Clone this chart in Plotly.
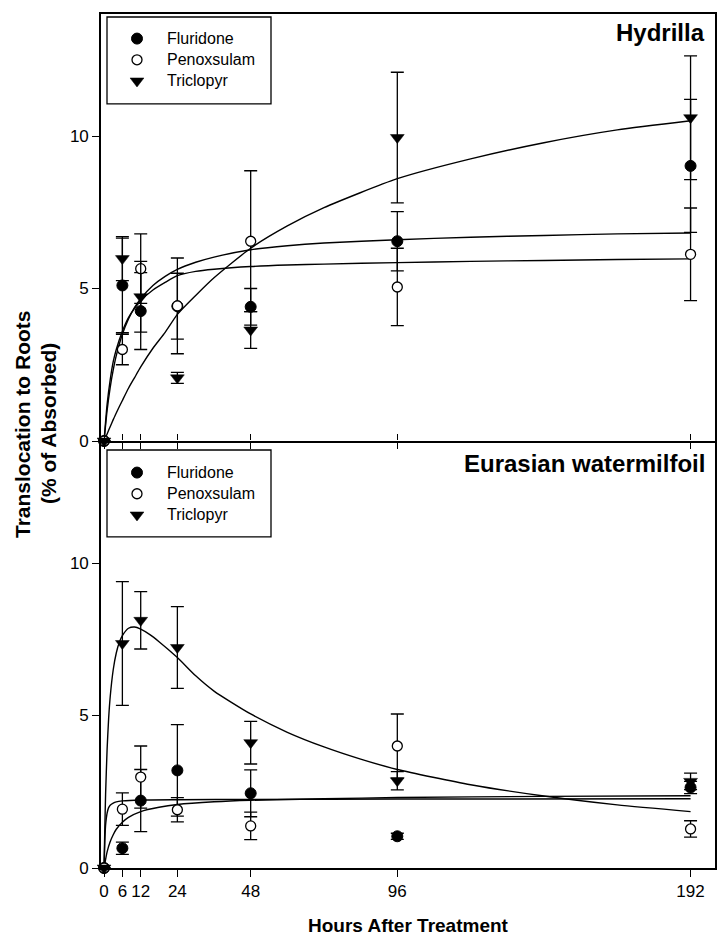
import plotly.graph_objects as go

# ---------------- data ----------------
hours = [0, 6, 12, 24, 48, 96, 192]
x_ticks = [0, 6, 12, 24, 48, 96, 192]
y_ticks = [0, 5, 10]
series_names = ["Fluridone", "Penoxsulam", "Triclopyr"]

# Hydrilla (top panel)
hyd_fluridone = [0, 5.10, 4.26, 4.42, 4.40, 6.55, 9.02]
hyd_fluridone_err = [0, 1.55, 1.26, 1.08, 0.60, 0.97, 2.18]
hyd_penoxsulam = [0, 3.00, 5.65, 4.43, 6.55, 5.05, 6.12]
hyd_penoxsulam_err = [0, 0.50, 1.14, 1.57, 2.31, 1.27, 1.52]
hyd_triclopyr = [0, 5.98, 4.73, 2.07, 3.64, 9.95, 10.60]
hyd_triclopyr_err = [0, 0.72, 1.16, 0.18, 0.60, 2.14, 2.03]

# Hydrilla fitted curves
hyd_fit_x = [0, 1, 2, 3, 4, 6, 8, 10, 12, 16, 20, 24, 30, 36, 48, 60, 72, 96, 120, 144, 168, 192]
hyd_fit_fluridone = [0, 1.0, 1.75, 2.33, 2.8, 3.5, 4.0, 4.38, 4.67, 5.1, 5.4, 5.63, 5.86, 6.03, 6.27, 6.4, 6.49, 6.6, 6.68, 6.74, 6.79, 6.82]
hyd_fit_penoxsulam = [0, 1.2, 2.0, 2.6, 3.0, 3.6, 4.05, 4.35, 4.6, 4.95, 5.2, 5.42, 5.56, 5.63, 5.72, 5.77, 5.8, 5.85, 5.89, 5.92, 5.95, 5.97]
hyd_fit_triclopyr = [0, 0.23, 0.47, 0.7, 0.92, 1.33, 1.73, 2.08, 2.43, 3.04, 3.56, 4.15, 4.77, 5.35, 6.32, 7.05, 7.65, 8.6, 9.25, 9.78, 10.2, 10.5]

# Eurasian watermilfoil (bottom panel)
ewm_fluridone = [0, 0.65, 2.21, 3.20, 2.45, 1.04, 2.64]
ewm_fluridone_err = [0, 0.20, 1.02, 1.50, 0.77, 0.10, 0.20]
ewm_penoxsulam = [0, 1.93, 2.98, 1.91, 1.38, 4.00, 1.28]
ewm_penoxsulam_err = [0, 0.53, 1.02, 0.40, 0.45, 1.05, 0.27]
ewm_triclopyr = [0, 7.36, 8.12, 7.23, 4.11, 2.86, 2.84]
ewm_triclopyr_err = [0, 2.03, 0.94, 1.34, 0.70, 0.30, 0.27]

ewm_fit_tri_x = [0, 0.25, 0.5, 1, 1.5, 2, 3, 4, 5, 6, 8, 10, 12, 15, 18, 24, 30, 36, 48, 60, 72, 84, 96, 120, 144, 168, 192]
ewm_fit_triclopyr = [0, 1.3, 2.4, 3.9, 4.9, 5.6, 6.5, 7.05, 7.4, 7.62, 7.86, 7.9, 7.83, 7.65, 7.42, 6.9, 6.3, 5.8, 5.05, 4.45, 3.97, 3.57, 3.23, 2.73, 2.36, 2.07, 1.85]
ewm_fit_flu_x = [0, 0.25, 0.5, 1, 1.5, 2, 3, 4, 6, 12, 24, 48, 96, 192]
ewm_fit_fluridone = [0, 0.9, 1.4, 1.8, 1.98, 2.06, 2.13, 2.17, 2.2, 2.23, 2.24, 2.25, 2.26, 2.27]
ewm_fit_pen_x = [0, 1, 2, 3, 4, 6, 8, 12, 18, 24, 36, 48, 72, 96, 144, 192]
ewm_fit_penoxsulam = [0, 0.53, 0.86, 1.09, 1.27, 1.5, 1.66, 1.85, 1.99, 2.08, 2.17, 2.22, 2.27, 2.31, 2.35, 2.37]

panel_labels = ["Hydrilla", "Eurasian watermilfoil"]
x_title = "Hours After Treatment"
y_title_lines = ["Translocation to Roots", "(% of Absorbed)"]

# ---------------- figure ----------------
# The page body has an 8px default margin, so the figure is drawn 8px smaller
# and all window-pixel positions below are shifted by OFF.
FONT = "Liberation Sans, Arial, sans-serif"
OFF = 8
W, H = 725 - OFF, 939 - OFF
ML, MR, MT, MB = 101 - OFF, 10, 12 - OFF, 71
PW, PH = W - ML - MR, H - MT - MB

def px_x(p):
    return (p - OFF - ML) / PW

def px_y(p):
    return (H - MB - (p - OFF)) / PH

fig = go.Figure()

def add_curve(x, y, xa, ya):
    fig.add_trace(go.Scatter(x=x, y=y, mode="lines",
                             line=dict(color="black", width=1.4, shape="spline", smoothing=0.6),
                             xaxis=xa, yaxis=ya, showlegend=False, hoverinfo="skip"))

add_curve(hyd_fit_x, hyd_fit_fluridone, "x", "y")
add_curve(hyd_fit_x, hyd_fit_penoxsulam, "x", "y")
add_curve(hyd_fit_x, hyd_fit_triclopyr, "x", "y")
add_curve(ewm_fit_tri_x, ewm_fit_triclopyr, "x2", "y2")
add_curve(ewm_fit_flu_x, ewm_fit_fluridone, "x2", "y2")
add_curve(ewm_fit_pen_x, ewm_fit_penoxsulam, "x2", "y2")

markers = [
    dict(symbol="circle", size=11, color="black", line=dict(color="black", width=1)),
    dict(symbol="circle", size=10, color="white", line=dict(color="black", width=1.3)),
    dict(symbol="triangle-down", size=12, color="black", line=dict(color="black", width=0.5)),
]

def add_points(ys, errs, idx, xa, ya, legend):
    fig.add_trace(go.Scatter(
        x=hours, y=ys, mode="markers",
        name='<span style="font-size:16px">%s</span>' % series_names[idx],
        marker=markers[idx],
        error_y=dict(type="data", array=errs, visible=True, color="black", thickness=1.3, width=6.5),
        xaxis=xa, yaxis=ya, legend=legend, cliponaxis=False,
    ))

add_points(hyd_fluridone, hyd_fluridone_err, 0, "x", "y", "legend")
add_points(hyd_penoxsulam, hyd_penoxsulam_err, 1, "x", "y", "legend")
add_points(hyd_triclopyr, hyd_triclopyr_err, 2, "x", "y", "legend")
add_points(ewm_fluridone, ewm_fluridone_err, 0, "x2", "y2", "legend2")
add_points(ewm_penoxsulam, ewm_penoxsulam_err, 1, "x2", "y2", "legend2")
add_points(ewm_triclopyr, ewm_triclopyr_err, 2, "x2", "y2", "legend2")

tickfont = dict(family=FONT, size=17, color="black")
common_x = dict(range=[-1, 200], tickvals=x_ticks, showgrid=False, zeroline=False,
                linecolor="black", linewidth=1.6, ticks="outside",
                ticklen=6, tickwidth=1.3, tickcolor="black", tickfont=tickfont)
common_y = dict(range=[0, 14], tickvals=y_ticks, showgrid=False, zeroline=False,
                showline=True, linecolor="black", linewidth=1.6, ticks="outside", mirror=True,
                ticklen=7, tickwidth=1.3, tickcolor="black", tickfont=tickfont)

legend_common = dict(xanchor="left", yanchor="top", bgcolor="rgba(0,0,0,0)", borderwidth=0,
                     font=dict(family=FONT, size=14, color="black"), itemwidth=50,
                     tracegroupgap=0, itemclick=False, itemdoubleclick=False)

xaxis_top = {**common_x, "domain": [0, 1], "anchor": "y", "showline": True, "mirror": True,
             "showticklabels": False}
xaxis_bottom = {**common_x, "domain": [0, 1], "anchor": "y2", "showline": True, "mirror": False,
                "showticklabels": True, "ticklen": 7}
xaxis_divider = {**common_x, "overlaying": "x2", "anchor": "y2", "side": "top", "showline": False,
                 "showticklabels": False}

fig.update_layout(
    width=W, height=H,
    margin=dict(l=ML, r=MR, t=MT, b=MB, pad=0),
    paper_bgcolor="white", plot_bgcolor="white",
    xaxis=xaxis_top,
    yaxis={**common_y, "domain": [0.5, 1], "anchor": "x"},
    xaxis2=xaxis_bottom,
    yaxis2={**common_y, "domain": [0, 0.5], "anchor": "x2"},
    xaxis3=xaxis_divider,
    legend=dict(**legend_common, x=px_x(107), y=px_y(21)),
    legend2=dict(**legend_common, x=px_x(107), y=px_y(456)),
    showlegend=True,
)

# empty trace so the overlay axis (upward ticks at the divider) is drawn
fig.add_trace(go.Scatter(x=[None], y=[None], xaxis="x3", yaxis="y2", showlegend=False,
                         hoverinfo="skip", mode="markers"))

# legend boxes
for (x0, y0, x1, y1) in [(107, 15, 271, 102), (107, 449, 271, 536)]:
    fig.add_shape(type="rect", xref="paper", yref="paper",
                  x0=px_x(x0), x1=px_x(x1), y0=px_y(y1), y1=px_y(y0),
                  line=dict(color="black", width=1.3), fillcolor="rgba(0,0,0,0)", layer="above")

# panel labels
fig.add_annotation(text="<b>%s</b>" % panel_labels[0], xref="paper", yref="paper",
                   x=px_x(707), y=px_y(31), xanchor="right", yanchor="middle", showarrow=False,
                   font=dict(family=FONT, size=24, color="black"))
fig.add_annotation(text="<b>%s</b>" % panel_labels[1], xref="paper", yref="paper",
                   x=px_x(707), y=px_y(463), xanchor="right", yanchor="middle", showarrow=False,
                   font=dict(family=FONT, size=24, color="black"))

# axis titles
fig.add_annotation(text="<b>%s</b>" % x_title, xref="paper", yref="paper",
                   x=0.5, y=px_y(938), xanchor="center", yanchor="bottom", showarrow=False,
                   font=dict(family=FONT, size=19, color="black"))
for line, xc in zip(y_title_lines, [22, 48]):
    fig.add_annotation(text="<b>%s</b>" % line, xref="paper", yref="paper",
                       x=px_x(xc), y=px_y(423), xanchor="center", yanchor="middle", showarrow=False,
                       textangle=-90, font=dict(family=FONT, size=21, color="black"))

fig.write_html("out.html")
